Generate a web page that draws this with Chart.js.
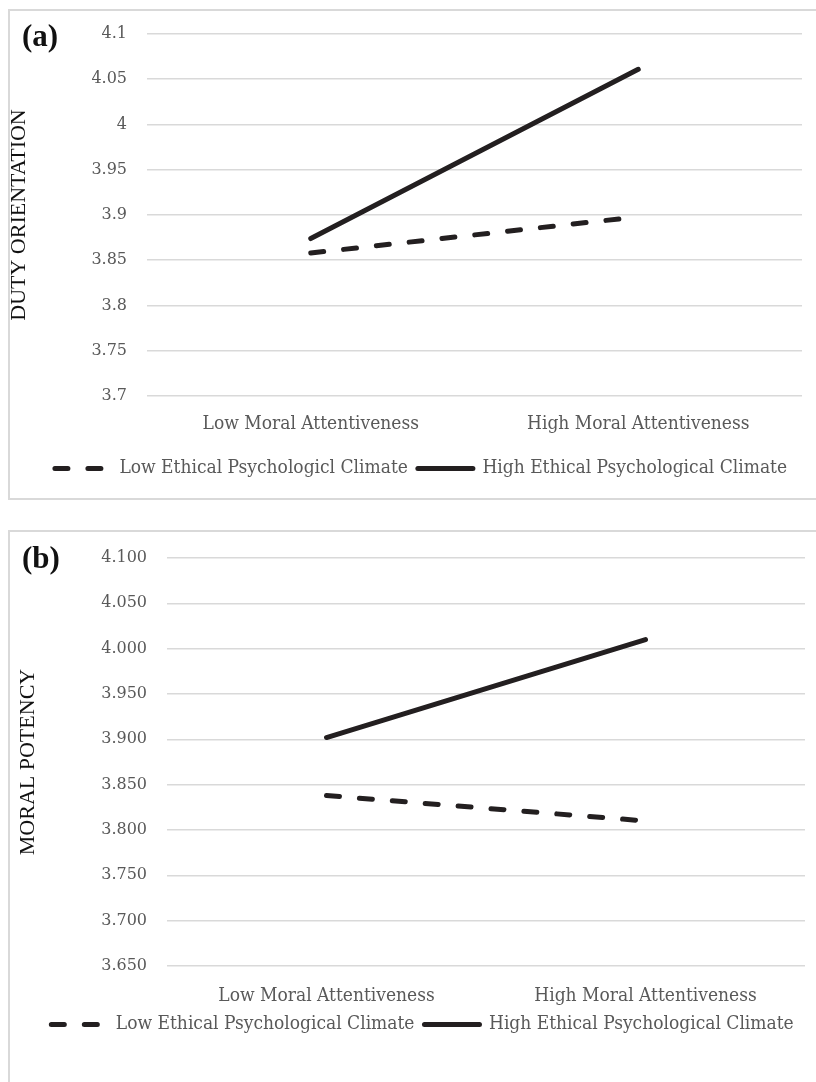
<!DOCTYPE html>
<html lang="en">
<head>
    <meta charset="UTF-8">
    <title>Moral attentiveness interaction plots</title>
    <script src="https://cdn.jsdelivr.net/npm/chart.js"></script>
    <style>
        body { margin: 0; width: 816px; height: 1082px; overflow: hidden; background: #fff; position: relative; }
        .panel { position: absolute; left: 8px; border: 2px solid #d9d9d9; width: 840px; }
        .tag { position: absolute; left: 22px; font: bold 31px "Liberation Serif", serif; color: #111; line-height: 1; }
        .box { position: absolute; left: 0; width: 816px; }
    </style>
</head>
<body>
    <div class="panel" style="top: 9px; height: 487px;"></div>
    <div class="panel" style="top: 530px; height: 600px;"></div>

    <div class="box" style="top: 0; height: 500px;"><canvas id="chartA" width="816" height="500"></canvas></div>
    <div class="box" style="top: 520px; height: 562px;"><canvas id="chartB" width="816" height="562"></canvas></div>

    <div class="tag" style="top: 20px;">(a)</div>
    <div class="tag" style="top: 542px;">(b)</div>

    <script>
        // categories on the x axis
        const categories = ['Low Moral Attentiveness', 'High Moral Attentiveness'];

        // panel (a) - duty orientation
        const seriesNamesA = ['Low Ethical Psychologicl Climate', 'High Ethical Psychological Climate'];
        const lowA = [3.858, 3.898];
        const highA = [3.874, 4.061];
        const yTicksA = ['3.7', '3.75', '3.8', '3.85', '3.9', '3.95', '4', '4.05', '4.1'];

        // panel (b) - moral potency
        const seriesNamesB = ['Low Ethical Psychological Climate', 'High Ethical Psychological Climate'];
        const lowB = [3.838, 3.810];
        const highB = [3.902, 4.010];
        const yTicksB = ['3.650', '3.700', '3.750', '3.800', '3.850', '3.900', '3.950', '4.000', '4.050', '4.100'];

        const lineColor = '#231f20';
        const gridColor = '#d9d9d9';
        const textGray = '#595959';
        const condensed = '"DejaVu Serif Condensed", "DejaVu Serif", serif';

        // legend samples: keep the dataset's dash, width and caps
        function legendItems(chart) {
            const items = Chart.defaults.plugins.legend.labels.generateLabels(chart);
            items.forEach(it => {
                const ds = chart.data.datasets[it.datasetIndex];
                it.lineDash = ds.borderDash || [];
                it.lineWidth = ds.borderWidth;
                it.lineCap = ds.borderCapStyle;
                it.strokeStyle = ds.borderColor;
            });
            return items;
        }

        function makeChart(id, names, low, high, tickLabels, yTitle, geo) {
            const ctx = document.getElementById(id).getContext('2d');
            return new Chart(ctx, {
                type: 'line',
                data: {
                    labels: categories,
                    datasets: [{
                        label: names[0],
                        data: low,
                        borderColor: lineColor,
                        backgroundColor: lineColor,
                        borderWidth: 5,
                        borderDash: [13, 20],
                        borderCapStyle: 'round',
                        pointRadius: 0
                    }, {
                        label: names[1],
                        data: high,
                        borderColor: lineColor,
                        backgroundColor: lineColor,
                        borderWidth: 5,
                        borderCapStyle: 'round',
                        pointRadius: 0
                    }]
                },
                options: {
                    responsive: false,
                    animation: false,
                    devicePixelRatio: 1,
                    layout: { padding: geo.padding },
                    plugins: {
                        tooltip: { enabled: false },
                        legend: {
                            position: 'bottom',
                            labels: {
                                usePointStyle: true,
                                pointStyle: 'line',
                                pointStyleWidth: 55,
                                boxWidth: 55,
                                padding: 10,
                                color: textGray,
                                font: { family: condensed, size: 19 },
                                generateLabels: legendItems
                            }
                        }
                    },
                    scales: {
                        x: {
                            offset: true,
                            grid: { display: false },
                            border: { display: false },
                            ticks: { color: textGray, padding: geo.xPad, font: { family: condensed, size: 19 } },
                            afterFit: s => { s.height = geo.xHeight; }
                        },
                        y: {
                            min: parseFloat(tickLabels[0]),
                            max: parseFloat(tickLabels[tickLabels.length - 1]),
                            grid: { color: gridColor, lineWidth: 1.5, drawTicks: false },
                            border: { display: false },
                            afterBuildTicks: s => { s.ticks = tickLabels.map(t => ({ value: parseFloat(t) })); },
                            ticks: {
                                color: textGray,
                                padding: 20,
                                font: { family: '"DejaVu Serif", serif', size: 16 },
                                callback: (v, i) => tickLabels[i]
                            },
                            title: {
                                display: true,
                                text: yTitle,
                                color: '#111',
                                padding: { top: geo.titlePad, bottom: 0 },
                                font: { family: '"Liberation Serif", serif', size: 22 }
                            },
                            afterFit: s => { s.width = geo.yWidth; }
                        }
                    }
                }
            });
        }

        makeChart('chartA', seriesNamesA, lowA, highA, yTicksA, 'DUTY ORIENTATION', {
            padding: { left: 40, right: 14, top: 34, bottom: 12 },
            yWidth: 107, xHeight: 53, xPad: 9, titlePad: -34
        });

        makeChart('chartB', seriesNamesB, lowB, highB, yTicksB, 'MORAL POTENCY', {
            padding: { left: 40, right: 11, top: 38, bottom: 38 },
            yWidth: 127, xHeight: 39, xPad: 11, titlePad: -25
        });
    </script>
</body>
</html>
